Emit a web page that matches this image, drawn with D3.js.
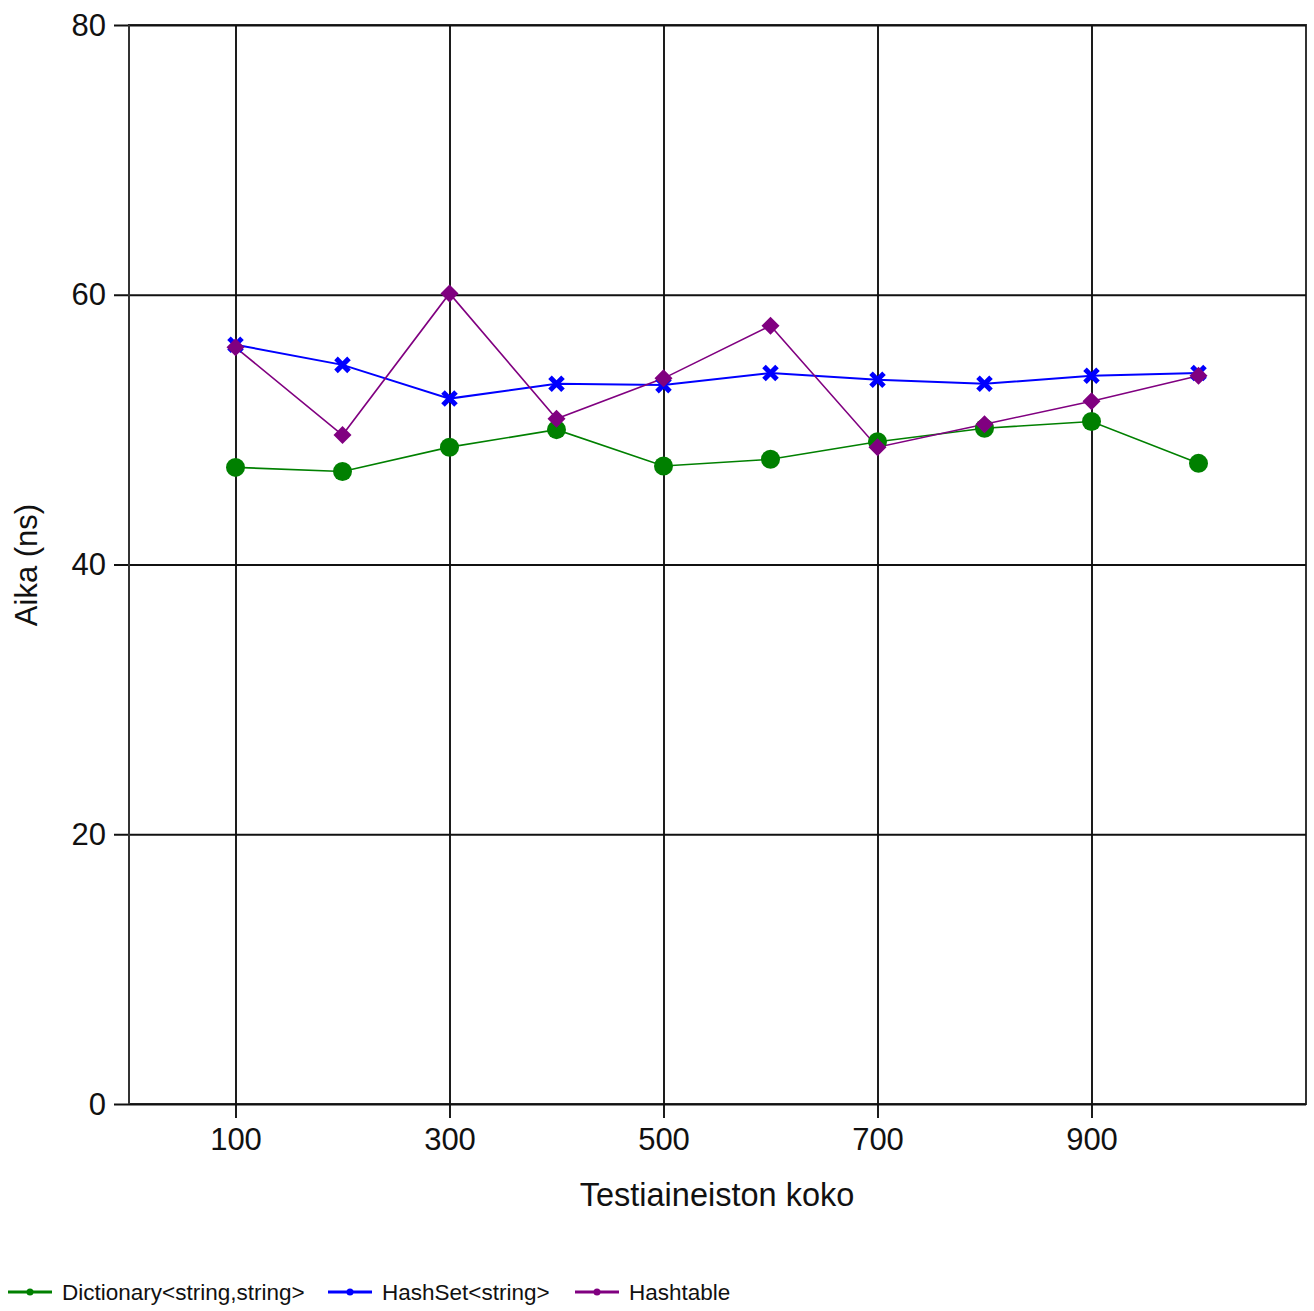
<!DOCTYPE html>
<html>
<head>
<meta charset="utf-8">
<script src="https://cdn.jsdelivr.net/npm/d3@7"></script>
<style>
  html, body { margin: 0; padding: 0; background: #fff; }
  svg { display: block; font-family: "Liberation Sans", Arial, sans-serif; }
</style>
</head>
<body>
<svg id="chart" width="1314" height="1311"></svg>
<script>
const sizes = [100, 200, 300, 400, 500, 600, 700, 800, 900, 1000];
const dictionary = [47.2, 46.9, 48.7, 50.0, 47.3, 47.8, 49.1, 50.1, 50.6, 47.5];
const hashSet   = [56.3, 54.8, 52.3, 53.4, 53.3, 54.2, 53.7, 53.4, 54.0, 54.2];
const hashtable = [56.1, 49.6, 60.1, 50.8, 53.8, 57.7, 48.7, 50.4, 52.1, 54.0];
const xTicks = [100, 300, 500, 700, 900];
const yTicks = [0, 20, 40, 60, 80];
const seriesNames = ["Dictionary<string,string>", "HashSet<string>", "Hashtable"];
const seriesColors = ["#008000", "#0000ff", "#800080"];
const xLabel = "Testiaineiston koko";
const yLabel = "Aika (ns)";

const series = [
  { name: seriesNames[0], values: dictionary, color: seriesColors[0], marker: "circle", width: 1.6 },
  { name: seriesNames[1], values: hashSet, color: seriesColors[1], marker: "cross", width: 2 },
  { name: seriesNames[2], values: hashtable, color: seriesColors[2], marker: "diamond", width: 1.6 }
];

const svg = d3.select("#chart");
const L = 129, R = 1306, T = 25, B = 1104;
const x = d3.scaleLinear().domain([0, 1100]).range([L, R]);
const y = d3.scaleLinear().domain([0, 80]).range([B, T]);
const gridColor = "#111";

// frame
svg.append("rect").attr("x", L).attr("y", T).attr("width", R - L).attr("height", B - T)
  .attr("fill", "none").attr("stroke", "#333").attr("stroke-width", 2);

// horizontal grid + y axis
const yAxis = d3.axisLeft(y).tickValues(yTicks).tickSize(R - L + 15).tickPadding(8).tickFormat(d3.format("d"));
const gy = svg.append("g").attr("transform", `translate(${R},0)`).call(yAxis);
gy.select(".domain").remove();
gy.selectAll(".tick line").attr("stroke", gridColor).attr("stroke-width", 1.9);
gy.selectAll(".tick text").attr("font-size", 31).attr("fill", "#111").attr("dy", "0.33em");

// vertical grid + x axis
const xAxis = d3.axisBottom(x).tickValues(xTicks).tickSize(B - T + 14).tickPadding(10).tickFormat(d3.format("d"));
const gx = svg.append("g").attr("transform", `translate(-0.5,${T})`).call(xAxis);
gx.select(".domain").remove();
gx.selectAll(".tick line").attr("stroke", gridColor).attr("stroke-width", 1.9);
gx.selectAll(".tick text").attr("font-size", 31).attr("fill", "#111");

// axis line on left
svg.append("line").attr("x1", L).attr("x2", L).attr("y1", T).attr("y2", B)
  .attr("stroke", "#333").attr("stroke-width", 2);

// axis titles
svg.append("text").attr("x", 717).attr("y", 1206).attr("text-anchor", "middle")
  .attr("font-size", 32.5).attr("fill", "#111").text(xLabel);
svg.append("text").attr("transform", "translate(37,565) rotate(-90)").attr("text-anchor", "middle")
  .attr("font-size", 31).attr("fill", "#111").text(yLabel);

// series
const line = d3.line().x((d, i) => x(sizes[i]) - 0.5).y(d => y(d));
const plot = svg.append("g");
series.forEach(s => {
  plot.append("path").datum(s.values).attr("d", line)
    .attr("fill", "none").attr("stroke", s.color).attr("stroke-width", s.width);
});
const crossPath = "M-6.5,-6.5L6.5,6.5M6.5,-6.5L-6.5,6.5";
series.forEach(s => {
  const g = plot.append("g");
  s.values.forEach((v, i) => {
    const cx = x(sizes[i]) - 0.5, cy = y(v);
    if (s.marker === "circle") {
      g.append("circle").attr("cx", cx).attr("cy", cy).attr("r", 9.5).attr("fill", s.color);
    } else if (s.marker === "cross") {
      g.append("path").attr("transform", `translate(${cx},${cy})`).attr("d", crossPath)
        .attr("stroke", s.color).attr("stroke-width", 5).attr("fill", "none");
    } else {
      g.append("path").attr("transform", `translate(${cx},${cy})`).attr("d", "M0,-9L9,0L0,9L-9,0Z")
        .attr("fill", s.color);
    }
  });
});

// legend
const legendX = [8, 328, 575];
const lg = svg.append("g");
series.forEach((s, i) => {
  const lx = legendX[i], ly = 1292;
  lg.append("line").attr("x1", lx).attr("x2", lx + 44).attr("y1", ly).attr("y2", ly)
    .attr("stroke", s.color).attr("stroke-width", 3);
  lg.append("circle").attr("cx", lx + 22).attr("cy", ly).attr("r", 3.5).attr("fill", s.color);
  lg.append("text").attr("x", lx + 54).attr("y", ly + 8).attr("font-size", 22.5)
    .attr("fill", "#111").text(s.name);
});
</script>
</body>
</html>
